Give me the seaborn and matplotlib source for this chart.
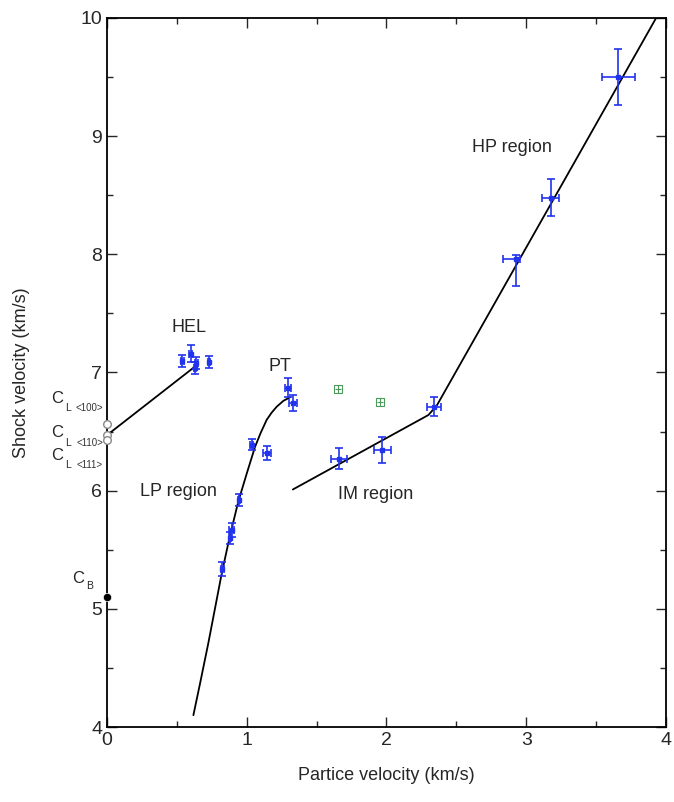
import numpy as np
import pandas as pd
import matplotlib
matplotlib.use("Agg")
import matplotlib.pyplot as plt
import seaborn as sns

# measured points (particle velocity, shock velocity, errors)
up = [0.54, 0.60, 0.64, 0.63, 0.73,
      1.297, 1.329,
      1.035, 1.143, 0.945, 0.892, 0.88, 0.825,
      1.66, 1.97, 2.34,
      2.927, 3.175, 3.66]
us = [7.10, 7.16, 7.08, 7.04, 7.09,
      6.87, 6.74,
      6.39, 6.32, 5.92, 5.67, 5.60, 5.34,
      6.27, 6.34, 6.71,
      7.96, 8.48, 9.50]
up_err_lo = [0.01, 0.01, 0.01, 0.01, 0.01,
             0.02, 0.03,
             0.01, 0.03, 0.01, 0.02, 0.01, 0.01,
             0.06, 0.06, 0.05,
             0.09, 0.06, 0.12]
up_err_hi = [0.01, 0.01, 0.01, 0.01, 0.01,
             0.02, 0.03,
             0.01, 0.03, 0.01, 0.02, 0.01, 0.01,
             0.06, 0.06, 0.05,
             0.03, 0.06, 0.12]
us_err_lo = [0.05, 0.07, 0.05, 0.05, 0.05,
             0.08, 0.07,
             0.05, 0.06, 0.05, 0.06, 0.05, 0.06,
             0.09, 0.11, 0.08,
             0.23, 0.16, 0.24]
us_err_hi = [0.05, 0.07, 0.05, 0.05, 0.05,
             0.08, 0.07,
             0.05, 0.06, 0.05, 0.06, 0.05, 0.06,
             0.09, 0.11, 0.08,
             0.03, 0.16, 0.24]

# green points
up_green = [1.655, 1.953]
us_green = [6.86, 6.75]

# sound velocities at up = 0
cl_us = [6.56, 6.47, 6.43]
cb_us = [5.10]
cl_label_us = [6.78, 6.49, 6.30]
cl_dirs = ["<100>", "<110>", "<111>"]

# fitted lines
hel_up = [0.0, 0.64]
hel_us = [6.47, 7.06]
lp_up = [0.618, 0.666, 0.725, 0.821, 0.88, 0.94, 1.00, 1.059, 1.10, 1.143,
         1.178, 1.214, 1.262, 1.31]
lp_us = [4.10, 4.37, 4.71, 5.30, 5.62, 5.91, 6.145, 6.37, 6.49, 6.60,
         6.66, 6.71, 6.76, 6.79]
imhp_up = [1.33, 2.30, 2.36, 3.93]
imhp_us = [6.01, 6.64, 6.72, 10.0]

sns.set_style("ticks")
plt.rcParams['font.family'] = ['Liberation Sans', 'DejaVu Sans']

fig = plt.figure(figsize=(6.74, 8.02), dpi=100)
ax = fig.add_axes([0.1588, 0.0935, 0.8292, 0.8841])

blue = "#2233ee"
ax.errorbar(up, us, xerr=[up_err_lo, up_err_hi], yerr=[us_err_lo, us_err_hi],
            fmt='s', ms=2.5, color=blue, ecolor=blue, elinewidth=1.2,
            capsize=3, capthick=1.2, zorder=3)
ax.errorbar(up_green, us_green, xerr=0.02, yerr=0.03, fmt='s', ms=6,
            mfc='none', mec='#4a9a5a', ecolor='#4a9a5a', elinewidth=0.8,
            mew=0.8, zorder=3)

# lines
sns.lineplot(x=hel_up, y=hel_us, color='black', lw=1.3, ax=ax, sort=False)
sns.lineplot(x=lp_up, y=lp_us, color='black', lw=1.3, ax=ax, sort=False)
sns.lineplot(x=imhp_up, y=imhp_us, color='black', lw=1.3, ax=ax, sort=False)

# sound velocities
sns.scatterplot(x=[0.0] * len(cl_us), y=cl_us, marker='o', s=30,
                facecolor='white', edgecolor='#888888', linewidth=1,
                ax=ax, zorder=4, clip_on=False)
sns.scatterplot(x=[0.0], y=cb_us, marker='o', s=35, color='black',
                ax=ax, zorder=4, clip_on=False)

# region labels
ax.text(0.59, 7.38, "HEL", fontsize=13, ha='center', va='center')
ax.text(1.24, 7.05, "PT", fontsize=13, ha='center', va='center')
ax.text(0.51, 5.99, "LP region", fontsize=13, ha='center', va='center')
ax.text(1.92, 5.97, "IM region", fontsize=13, ha='center', va='center')
ax.text(2.90, 8.90, "HP region", fontsize=13, ha='center', va='center')

# labels beside the y axis
for yy, lab in zip(cl_label_us, cl_dirs):
    ax.annotate("C", xy=(0, yy), xytext=(-44, 0), textcoords='offset pixels',
                fontsize=12, ha='right', va='center', annotation_clip=False)
    ax.annotate("L", xy=(0, yy), xytext=(-42, -10), textcoords='offset pixels',
                fontsize=7.5, ha='left', va='center', annotation_clip=False)
    ax.annotate(lab, xy=(0, yy), xytext=(-4, -10), textcoords='offset pixels',
                fontsize=7, ha='right', va='center', color='#333333',
                annotation_clip=False)
ax.annotate("C", xy=(0, 5.26), xytext=(-23, 0), textcoords='offset pixels',
            fontsize=12, ha='right', va='center', annotation_clip=False)
ax.annotate("B", xy=(0, 5.26), xytext=(-21, -8), textcoords='offset pixels',
            fontsize=7.5, ha='left', va='center', annotation_clip=False)

ax.set_xlim(0, 4)
ax.set_ylim(4, 10)
ax.set_xticks([0, 1, 2, 3, 4])
ax.set_yticks([4, 5, 6, 7, 8, 9, 10])
ax.set_xticks(np.arange(0.5, 4, 1.0), minor=True)
ax.set_yticks(np.arange(4.5, 10, 1.0), minor=True)
ax.tick_params(which='both', direction='in', top=True, right=True, labelsize=14,
               width=1)
ax.tick_params(which='major', length=7)
ax.tick_params(which='minor', length=4)
for s in ax.spines.values():
    s.set_linewidth(1.3)
    s.set_color('black')

ax.set_xlabel("Partice velocity (km/s)", fontsize=13, labelpad=13)
ax.set_ylabel("Shock velocity (km/s)", fontsize=13, labelpad=36)

fig.savefig("out.png", dpi=100)
